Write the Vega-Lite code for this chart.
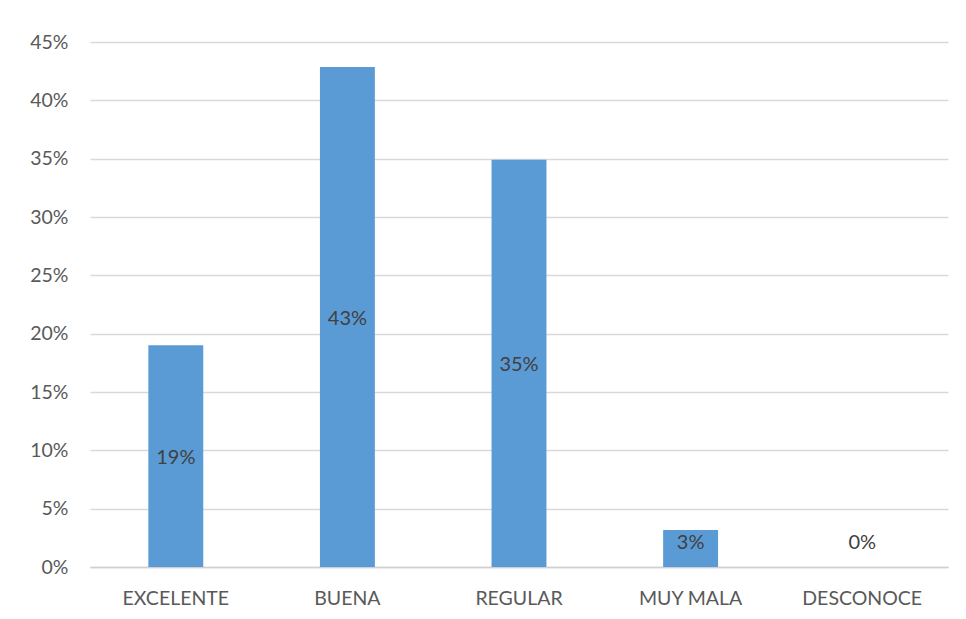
{
  "$schema": "https://vega.github.io/schema/vega-lite/v6.json",
  "width": 858,
  "height": 525,
  "autosize": {"type": "none"},
  "padding": {"left": 90, "top": 42, "right": 18, "bottom": 52},
  "background": "white",
  "config": {
    "view": {"stroke": null},
    "font": "Lato"
  },
  "data": {
    "values": [
      {"category": "EXCELENTE", "value": 0.19},
      {"category": "BUENA", "value": 0.4286},
      {"category": "REGULAR", "value": 0.349},
      {"category": "MUY MALA", "value": 0.0317},
      {"category": "DESCONOCE", "value": 0}
    ]
  },
  "encoding": {
    "x": {
      "field": "category",
      "type": "nominal",
      "sort": null,
      "scale": {"paddingInner": 0.68, "paddingOuter": 0.34},
      "axis": {
        "title": null,
        "labelAngle": 0,
        "labelFontSize": 19.5,
        "labelColor": "#595959",
        "labelPadding": 22,
        "ticks": false,
        "domainColor": "#d0d0d0",
        "domainWidth": 1.5
      }
    }
  },
  "layer": [
    {
      "mark": {"type": "bar", "color": "#5b9bd5"},
      "encoding": {
        "y": {
          "field": "value",
          "type": "quantitative",
          "scale": {"domain": [0, 0.45]},
          "axis": {
            "title": null,
            "format": ".0%",
            "values": [0, 0.05, 0.1, 0.15, 0.2, 0.25, 0.3, 0.35, 0.4, 0.45],
            "labelFontSize": 19.5,
            "labelColor": "#595959",
            "labelPadding": 22,
            "ticks": false,
            "domain": false,
            "gridColor": "#d9d9d9",
            "gridWidth": 1.5
          }
        }
      }
    },
    {
      "transform": [{"calculate": "max(datum.value / 2, 0.022)", "as": "labelPos"}],
      "mark": {"type": "text", "fontSize": 20, "color": "#404040", "baseline": "middle", "dy": 2},
      "encoding": {
        "y": {"field": "labelPos", "type": "quantitative"},
        "text": {"field": "value", "type": "quantitative", "format": ".0%"}
      }
    }
  ]
}
